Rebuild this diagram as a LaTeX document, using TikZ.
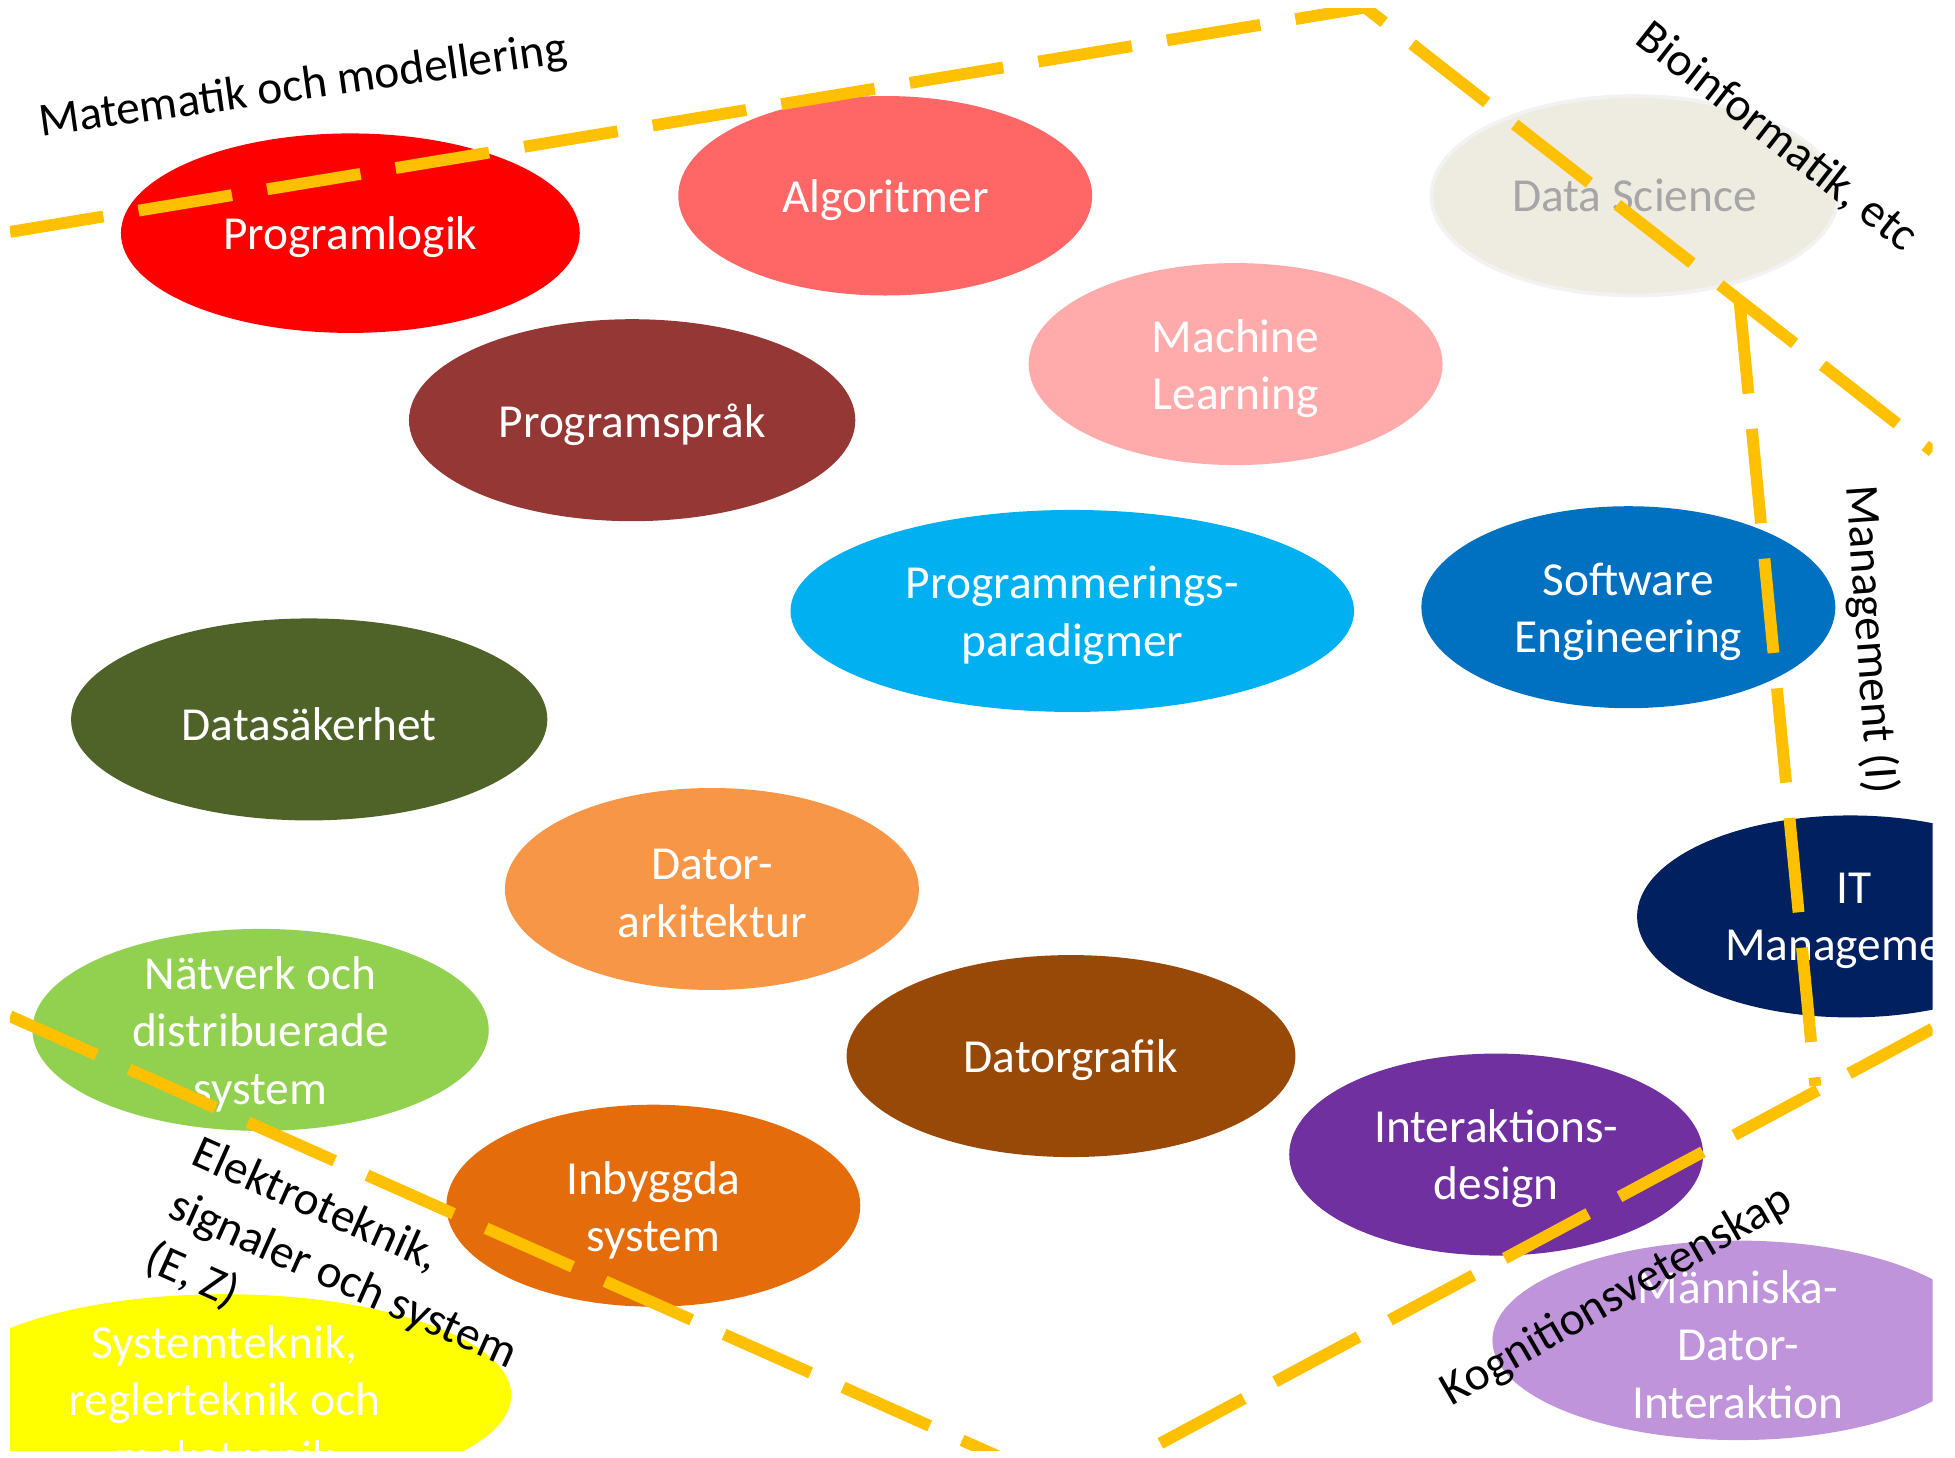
\documentclass[tikz,border=0pt]{standalone}
\usepackage{fontspec}
\setmainfont{Carlito}
\usetikzlibrary{shapes.geometric}
\definecolor{cLine}{HTML}{FFC000}
\definecolor{cPl}{HTML}{FF0000}
\definecolor{cAlg}{HTML}{FF6666}
\definecolor{cDs}{HTML}{EEECE1}
\definecolor{cDsB}{HTML}{F2F2F2}
\definecolor{cDsT}{HTML}{A6A6A6}
\definecolor{cMl}{HTML}{FFABAB}
\definecolor{cPs}{HTML}{953735}
\definecolor{cPp}{HTML}{00B0F0}
\definecolor{cSe}{HTML}{0070C0}
\definecolor{cSak}{HTML}{4F6228}
\definecolor{cDa}{HTML}{F79646}
\definecolor{cItm}{HTML}{002060}
\definecolor{cNat}{HTML}{92D050}
\definecolor{cDg}{HTML}{984807}
\definecolor{cId}{HTML}{7030A0}
\definecolor{cIb}{HTML}{E46C0A}
\definecolor{cMdi}{HTML}{BF94DB}
\definecolor{cSys}{HTML}{FFFF00}
\begin{document}
\begin{tikzpicture}[x=0.5pt,y=-0.5pt,
  blob/.style={ellipse, inner sep=0pt, draw=none},
  lbl/.style={text=white, font=\fontsize{19}{23}\selectfont, align=center, inner sep=0pt, yshift=-1.75pt},
  area/.style={draw=cLine, line width=4.75pt, dash pattern=on 38pt off 14.25pt},
  tag/.style={font=\fontsize{19}{23}\selectfont, inner sep=0pt, text=black}]
\useasboundingbox (0,0) rectangle (1568,1169);
\begin{scope}
\clip (8,7) rectangle (1550,1163);
% ellipses
\node[blob, fill=cPl,  minimum width=184pt, minimum height=80pt] (pl) at (281,187) {};
\node[blob, fill=cAlg, minimum width=166pt, minimum height=80pt] (alg) at (710,157) {};
\node[blob, fill=cDs, draw=cDsB, line width=1.5pt, minimum width=163pt, minimum height=80pt] (ds) at (1311,157) {};
\node[blob, fill=cMl,  minimum width=166pt, minimum height=81pt] (ml) at (991,292) {};
\node[blob, fill=cPs,  minimum width=179pt, minimum height=81pt] (ps) at (507,337) {};
\node[blob, fill=cPp,  minimum width=226pt, minimum height=81pt] (pp) at (860,490) {};
\node[blob, fill=cSe,  minimum width=166pt, minimum height=81pt] (se) at (1306,487) {};
\node[blob, fill=cSak, minimum width=191pt, minimum height=81pt] (sak) at (248,577) {};
\node[blob, fill=cDa,  minimum width=166pt, minimum height=81pt] (da) at (571,713) {};
\node[blob, fill=cItm, minimum width=171pt, minimum height=81pt] (itm) at (1484,735) {};
\node[blob, fill=cNat, minimum width=183pt, minimum height=81pt] (nat) at (209,826) {};
\node[blob, fill=cDg,  minimum width=180pt, minimum height=81pt] (dg) at (859,847) {};
\node[blob, fill=cId,  minimum width=166pt, minimum height=81pt] (id) at (1200,926) {};
\node[blob, fill=cIb,  minimum width=166pt, minimum height=81pt] (ib) at (524,967) {};
\node[blob, fill=cMdi, minimum width=197pt, minimum height=80pt] (mdi) at (1394,1075) {};
\node[blob, fill=cSys, minimum width=230pt, minimum height=81pt] (sys) at (180,1119) {};
% texts
\node[lbl] (plT) at (pl) {Programlogik};
\node[lbl] (algT) at (alg) {Algoritmer};
\node[lbl, text=cDsT, yshift=1.75pt] (dsT) at (ds) {Data Science};
\node[lbl] (mlT) at (ml) {Machine\\Learning};
\node[lbl] (psT) at (ps) {Programspråk};
\node[lbl] (ppT) at (pp) {Programmerings-\\paradigmer};
\node[lbl] (seT) at (se) {Software\\Engineering};
\node[lbl] (sakT) at (sak) {Datasäkerhet};
\node[lbl] (daT) at (da) {Dator-\\arkitektur};
\node[lbl] (itmT) at ([xshift=1.5pt]itm.center) {IT\\Management};
\node[lbl] (natT) at (nat) {Nätverk och\\distribuerade\\system};
\node[lbl] (dgT) at (dg) {Datorgrafik};
\node[lbl] (idT) at (id) {Interaktions-\\design};
\node[lbl] (ibT) at (ib) {Inbyggda\\system};
\node[lbl] (mdiT) at (mdi) {Människa-\\Dator-\\Interaktion};
\node[lbl] (sysT) at (sys) {Systemteknik,\\reglerteknik och\\mekatronik};
% boundary lines
\coordinate (a1) at (8,186);
\coordinate (apex) at (1095,6);
\coordinate (b2) at (1550,362);
\coordinate (c1) at (1395,240);
\coordinate (c2) at (1456,871);
\coordinate (d1) at (1550,825);
\coordinate (bot) at (861,1195);
\coordinate (e1) at (8,815);
\draw[area] (a1) -- (apex) -- (b2);
\draw[area] (c1) -- (c2);
\draw[area] (d1) -- (bot);
\draw[area] (e1) -- (bot);
\end{scope}
% area labels
\node[tag, rotate=8] (lm) at (243,70) {Matematik och modellering};
\node[tag, rotate=-38] (lb) at (1425,110) {Bioinformatik, etc};
\node[tag, rotate=-86] (lmg) at (1500,513) {Management (I)};
\node[tag, rotate=-24, align=left] (le) at (275,1027) {Elektroteknik,\\signaler och system\\(E, Z)};
\node[tag, rotate=30] (lk) at (1297,1040) {Kognitionsvetenskap};
\end{tikzpicture}
\end{document}
